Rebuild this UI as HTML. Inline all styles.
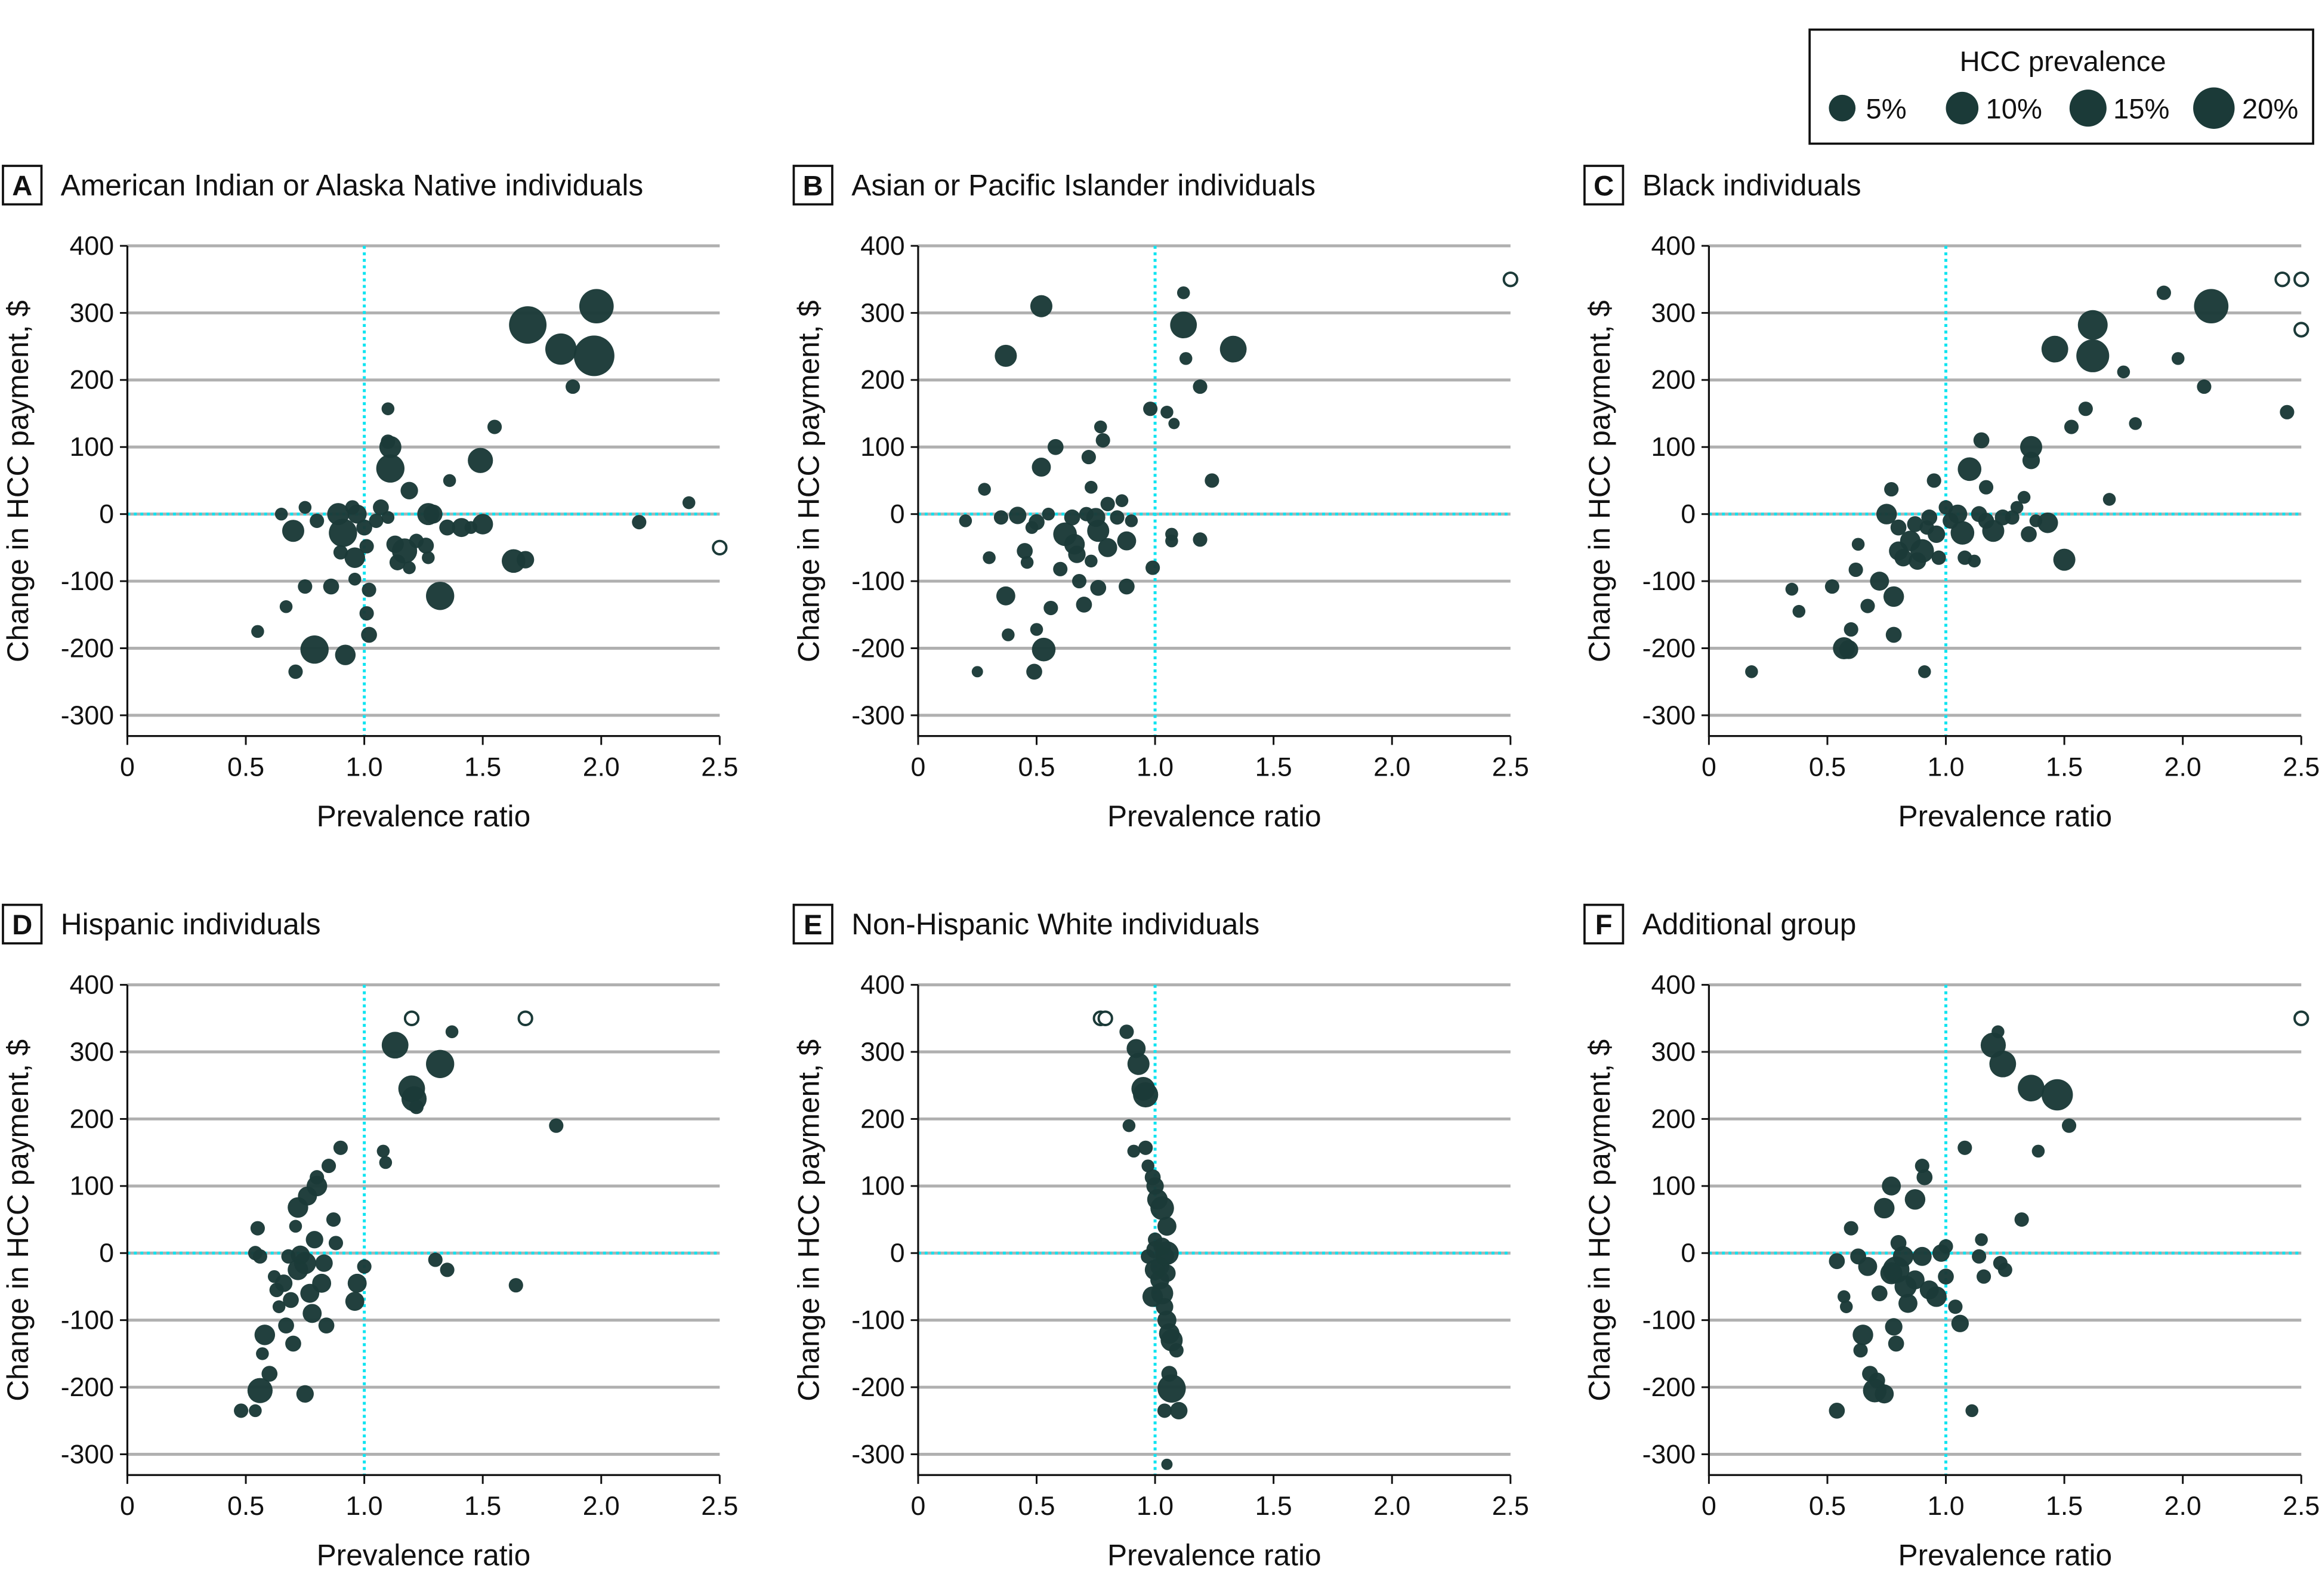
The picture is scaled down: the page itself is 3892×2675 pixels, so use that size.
<!DOCTYPE html>
<html><head><meta charset="utf-8">
<style>
html,body{margin:0;padding:0;background:#fff;}
svg{display:block;}
text{font-family:"Liberation Sans Narrow","Liberation Sans",sans-serif;fill:#111;}
</style></head>
<body>
<svg id="chart" width="3892" height="2675" viewBox="0 0 1568 1077.7" preserveAspectRatio="none" xmlns="http://www.w3.org/2000/svg">
<g>
<rect x="1222" y="20" width="340" height="77" fill="#fff" stroke="#111" stroke-width="1.5"/>
<text x="1393" y="48" font-size="19" text-anchor="middle">HCC prevalence</text>
<circle cx="1244" cy="73" r="9" fill="#1b3a38"/><text x="1260" y="80" font-size="19">5%</text>
<circle cx="1325" cy="73" r="11" fill="#1b3a38"/><text x="1341" y="80" font-size="19">10%</text>
<circle cx="1410" cy="73" r="12.5" fill="#1b3a38"/><text x="1427" y="80" font-size="19">15%</text>
<circle cx="1495" cy="73" r="14" fill="#1b3a38"/><text x="1514" y="80" font-size="19">20%</text>
</g>
</svg>
<script>
const panelLetters=["A","B","C","D","E","F"];
const panelTitles=["American Indian or Alaska Native individuals","Asian or Pacific Islander individuals","Black individuals","Hispanic individuals","Non-Hispanic White individuals","Additional group"];
const xTicks=[0,0.5,1.0,1.5,2.0,2.5];
const xTickLabels=["0","0.5","1.0","1.5","2.0","2.5"];
const yTicks=[400,300,200,100,0,-100,-200,-300];
const yTickLabels=["400","300","200","100","0","-100","-200","-300"];
const pointsA=[[0.55,-175,2],[0.65,0,2],[0.67,-138,2],[0.70,-25,8],[0.71,-235,3],[0.75,-108,3],[0.75,10,2],[0.80,-10,3],[0.79,-202,12],[0.86,-108,4],[0.89,0,8],[0.91,-28,12],[0.90,-57,3],[0.92,-210,7],[0.95,10,3],[0.96,-65,7],[0.96,-97,2],[0.97,0,6],[1.0,-20,4],[1.01,-48,3],[1.01,-148,3],[1.02,-113,3],[1.02,-180,4],[1.05,-10,3],[1.07,10,4],[1.10,157,2],[1.10,108,3],[1.11,100,8],[1.11,68,12],[1.10,-5,2],[1.13,-45,5],[1.14,-72,4],[1.17,-55,10],[1.19,-80,2],[1.19,35,5],[1.22,-40,3],[1.26,-47,4],[1.27,-65,2],[1.27,0,8],[1.29,0,6],[1.32,-122,12],[1.35,-20,4],[1.36,50,2],[1.41,-20,6],[1.45,-20,2],[1.50,-15,7],[1.49,80,10],[1.55,130,3],[1.63,-70,9],[1.68,-68,5],[1.69,282,18],[1.83,246,14],[1.88,190,3],[1.98,310,16],[1.97,236,20],[2.16,-12,3],[2.37,17,2]];
const pointsB=[[0.2,-10,2],[0.25,-235,1],[0.28,37,2],[0.3,-65,2],[0.35,-5,3],[0.37,-122,6],[0.37,236,8],[0.38,-180,2],[0.42,-2,5],[0.45,-55,4],[0.46,-72,2],[0.48,-20,2],[0.49,-235,4],[0.5,-172,2],[0.5,-12,4],[0.52,310,8],[0.52,70,6],[0.53,-202,9],[0.55,0,2],[0.56,-140,3],[0.58,100,4],[0.6,-82,3],[0.62,-30,9],[0.65,-5,4],[0.66,-45,7],[0.67,-60,5],[0.68,-100,3],[0.7,-135,4],[0.71,0,3],[0.72,85,3],[0.73,40,2],[0.73,-70,2],[0.75,-5,6],[0.76,-25,8],[0.76,-110,4],[0.77,130,2],[0.78,110,3],[0.8,15,3],[0.8,-50,6],[0.84,-5,3],[0.86,20,2],[0.88,-40,6],[0.88,-108,4],[0.9,-10,2],[0.99,-80,3],[0.98,157,3],[1.05,152,2],[1.07,-30,2],[1.07,-40,2],[1.08,135,1],[1.12,282,11],[1.12,330,2],[1.13,232,2],[1.19,190,3],[1.19,-38,3],[1.24,50,3],[1.33,246,11]];
const pointsC=[[0.18,-235,2],[0.35,-112,2],[0.38,-145,2],[0.52,-108,3],[0.57,-200,8],[0.59,-202,6],[0.6,-172,3],[0.62,-83,3],[0.63,-45,2],[0.67,-137,3],[0.72,-100,6],[0.75,0,7],[0.77,37,3],[0.78,-123,7],[0.78,-180,4],[0.8,-20,4],[0.8,-55,6],[0.82,-65,5],[0.85,-40,7],[0.87,-15,4],[0.88,-70,5],[0.9,-55,9],[0.91,-235,2],[0.92,-20,3],[0.93,-5,4],[0.95,50,3],[0.96,-30,5],[0.97,-65,3],[1.0,10,3],[1.02,-10,4],[1.05,0,6],[1.07,-28,9],[1.08,-65,3],[1.1,67,9],[1.12,-70,2],[1.14,0,4],[1.15,110,4],[1.17,40,3],[1.17,-10,4],[1.2,-25,8],[1.24,-5,4],[1.28,-5,3],[1.3,10,2],[1.33,25,2],[1.35,-30,4],[1.36,100,8],[1.36,80,5],[1.38,-10,2],[1.43,-13,7],[1.46,246,11],[1.5,-68,8],[1.53,130,3],[1.59,157,3],[1.62,282,13],[1.62,236,15],[1.69,22,2],[1.75,212,2],[1.8,135,2],[1.92,330,3],[1.98,232,2],[2.09,190,3],[2.12,310,16],[2.44,152,3]];
const pointsD=[[0.48,-235,3],[0.54,-235,2],[0.54,0,3],[0.55,37,3],[0.56,-5,3],[0.56,-205,10],[0.57,-150,2],[0.58,-122,7],[0.6,-180,4],[0.62,-35,2],[0.63,-55,3],[0.64,-80,2],[0.66,-45,5],[0.67,-108,4],[0.68,-5,3],[0.69,-70,4],[0.7,-135,4],[0.71,40,2],[0.72,68,7],[0.72,-25,7],[0.73,-3,6],[0.75,-210,5],[0.75,-15,8],[0.76,85,6],[0.77,-60,6],[0.78,-90,6],[0.79,20,5],[0.8,100,7],[0.8,113,3],[0.82,-45,6],[0.83,-15,5],[0.84,-108,4],[0.85,130,3],[0.87,50,3],[0.88,15,3],[0.9,157,3],[0.96,-72,6],[0.97,-45,6],[1.0,-20,3],[1.08,152,2],[1.09,135,2],[1.13,310,11],[1.2,245,11],[1.21,230,10],[1.22,218,3],[1.3,-10,3],[1.32,282,12],[1.35,-25,3],[1.37,330,2],[1.64,-48,3],[1.81,190,3]];
const pointsE=[[0.88,330,3],[0.92,305,6],[0.93,282,8],[0.95,245,9],[0.96,236,10],[0.89,190,2],[0.91,152,2],[0.96,157,3],[0.97,130,2],[0.99,113,4],[1.0,100,5],[1.01,80,7],[1.03,67,9],[1.05,40,6],[1.0,20,3],[1.03,10,5],[1.04,-5,6],[1.05,0,9],[1.0,-25,7],[1.02,-20,6],[0.99,-65,7],[1.03,-60,8],[1.02,-40,6],[1.05,-30,5],[1.04,-80,5],[1.05,-100,6],[1.06,-120,7],[1.07,-130,8],[1.09,-145,3],[1.06,-180,4],[1.07,-202,12],[1.1,-235,5],[1.04,-235,3],[1.05,-315,1],[0.97,-5,3],[1.0,5,5]];
const pointsF=[[0.54,-12,4],[0.54,-235,4],[0.57,-65,2],[0.58,-80,2],[0.6,37,3],[0.63,-5,4],[0.64,-145,3],[0.65,-122,7],[0.67,-20,6],[0.68,-180,4],[0.7,-205,9],[0.71,-190,4],[0.72,-60,4],[0.74,-210,6],[0.74,67,7],[0.77,100,6],[0.77,-30,8],[0.78,-110,5],[0.79,-135,4],[0.79,-25,11],[0.8,15,4],[0.82,-5,7],[0.83,-50,8],[0.84,-75,6],[0.87,-40,6],[0.87,80,7],[0.9,-5,6],[0.9,130,3],[0.91,113,4],[0.93,-55,6],[0.96,-65,7],[0.98,0,5],[1.0,-35,4],[1.0,10,3],[1.04,-80,3],[1.06,-105,5],[1.08,157,3],[1.11,-235,2],[1.14,-5,3],[1.15,20,2],[1.16,-35,3],[1.2,310,10],[1.22,330,2],[1.23,-15,3],[1.24,282,11],[1.25,-25,3],[1.32,50,3],[1.36,246,11],[1.39,152,2],[1.47,236,14],[1.52,190,3]];
const openA=[[2.5,-50]];
const openB=[[2.5,350]];
const openC=[[2.42,350],[2.5,350],[2.5,275]];
const openD=[[1.2,350],[1.68,350]];
const openE=[[0.77,350],[0.79,350]];
const openF=[[2.5,350]];

const allPoints=[pointsA,pointsB,pointsC,pointsD,pointsE,pointsF];
const allOpen=[openA,openB,openC,openD,openE,openF];
const NS="http://www.w3.org/2000/svg";
const svg=document.getElementById('chart');
function mk(tag,attrs,parent){const e=document.createElementNS(NS,tag);for(const k in attrs)e.setAttribute(k,attrs[k]);parent.appendChild(e);return e;}
function rad(p){return 3.3+0.52*p;}
for(let i=0;i<6;i++){
  const ox=(i%3)*534, oy=Math.floor(i/3)*499;
  const x0=ox+86, x1=ox+486, yTop=oy+166, yBot=oy+483, axisY=oy+497;
  const xs=v=>x0+(v-0)/(2.5-0)*(x1-x0);
  const ys=v=>yTop+(400-v)/(400-(-300))*(yBot-yTop);
  const g=mk('g',{},svg);
  
  
  const box=mk('rect',{x:ox+2,y:oy+112,width:26,height:26,fill:'#fff',stroke:'#111','stroke-width':1.5},g);
  
  
  const lt=mk('text',{x:ox+15,y:oy+132,'font-size':19,'font-weight':'bold','text-anchor':'middle'},g);lt.textContent=panelLetters[i];
  
  
  const tt=mk('text',{x:ox+41,y:oy+132,'font-size':20},g);tt.textContent=panelTitles[i];
  
  
  yTicks.forEach((v,k)=>{
    const gl=mk('line',{x1:x0,x2:x1,y1:ys(v),y2:ys(v),stroke:'#b0b0b0','stroke-width':2},g);
    
    
    mk('line',{x1:x0-5,x2:x0,y1:ys(v),y2:ys(v),stroke:'#111','stroke-width':1.2},g);
    const t=mk('text',{x:x0-9,y:ys(v)+6,'font-size':18,'text-anchor':'end'},g);t.textContent=yTickLabels[k];
    
    
  });
  xTicks.forEach((v,k)=>{
    mk('line',{x1:xs(v),x2:xs(v),y1:axisY,y2:axisY+6,stroke:'#111','stroke-width':1.2},g);
    const t=mk('text',{x:xs(v),y:oy+524,'font-size':18,'text-anchor':'middle'},g);t.textContent=xTickLabels[k];
    
    
  });
  const rv=mk('line',{x1:xs(1),x2:xs(1),y1:yTop,y2:axisY,stroke:'#10e4f0','stroke-width':2,'stroke-dasharray':'2 2.4'},g);
  
  
  const rh=mk('line',{x1:x0,x2:x1,y1:ys(0),y2:ys(0),stroke:'#10e4f0','stroke-width':2,'stroke-dasharray':'2 2.4'},g);
  
  
  const ax=mk('path',{d:`M${x0} ${yTop}V${axisY}H${x1}`,fill:'none',stroke:'#111','stroke-width':1.3},g);
  
  
  const xt=mk('text',{x:ox+286,y:oy+558,'font-size':20,'text-anchor':'middle'},g);xt.textContent='Prevalence ratio';
  
  
  const yt=mk('text',{x:0,y:0,'font-size':20,'text-anchor':'middle',transform:`translate(${ox+19},${oy+325}) rotate(-90)`},g);yt.textContent='Change in HCC payment, $';
  
  
  allPoints[i].forEach(p=>{
    const c=mk('circle',{cx:xs(p[0]),cy:ys(p[1]),r:rad(p[2]),fill:'#1b3a38','fill-opacity':0.97},g);
    
    
  });
  allOpen[i].forEach(p=>{
    const c=mk('circle',{cx:xs(p[0]),cy:ys(p[1]),r:4.5,fill:'#fff',stroke:'#1b3a38','stroke-width':1.6},g);
    
    
  });
}
</script>
</body></html>
